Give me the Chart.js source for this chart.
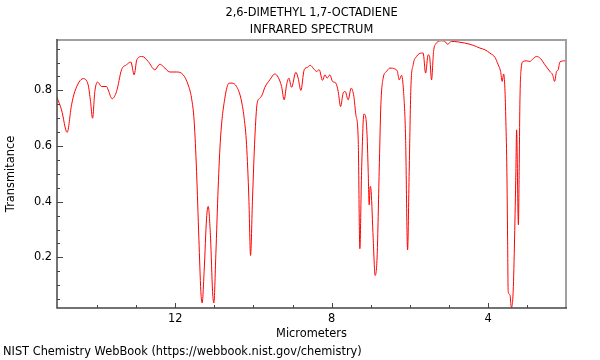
<!DOCTYPE html>
<html>
<head>
<meta charset="utf-8">
<script src="https://cdn.jsdelivr.net/npm/chart.js"></script>
<style>
  html, body { margin: 0; padding: 0; background: #fff; }
</style>
</head>
<body>
<canvas id="myChart" width="600" height="360"></canvas>
<script>
// spectrum: wavelength (micrometers) and transmitance
const microns = [
  15.02, 14.904, 14.761, 14.648, 14.564, 14.352, 14.224, 14.163, 14.111, 14.053,
  13.984, 13.881, 13.754, 13.712, 13.611, 13.498, 13.370, 13.242, 13.132, 13.048,
  12.979, 12.844, 12.690, 12.519, 12.391, 12.307, 12.135, 11.964, 11.795, 11.668,
  11.581, 11.514, 11.453, 11.394, 11.343, 11.310, 11.259, 11.197, 11.156, 11.095,
  11.044, 11.011, 10.960, 10.901, 10.840, 10.730, 10.620, 10.543, 10.431, 10.321,
  10.236, 10.175, 10.116, 10.073, 10.022, 9.963, 9.904, 9.835, 9.776, 9.707,
  9.579, 9.452, 9.367, 9.280, 9.214, 9.152, 9.094, 9.025, 8.915, 8.856,
  8.787, 8.702, 8.616, 8.549, 8.455, 8.385, 8.319, 8.232, 8.173, 8.115,
  8.046, 7.976, 7.892, 7.833, 7.772, 7.706, 7.654, 7.578, 7.501, 7.432,
  7.381, 7.322, 7.279, 7.235, 7.176, 7.125, 7.092, 7.066, 7.041, 7.015,
  6.990, 6.939, 6.888, 6.836, 6.785, 6.742, 6.683, 6.596, 6.512, 6.384,
  6.320, 6.274, 6.213, 6.162, 6.110, 6.059, 6.018, 5.975, 5.916, 5.829,
  5.701, 5.661, 5.599, 5.533, 5.497, 5.446, 5.395, 5.344, 5.190, 5.106,
  5.037, 4.935, 4.766, 4.595, 4.382, 4.211, 4.083, 3.956, 3.828, 3.743,
  3.682, 3.641, 3.605, 3.572, 3.547, 3.521, 3.503, 3.488, 3.444, 3.406,
  3.360, 3.324, 3.291, 3.273, 3.227, 3.207, 3.189, 3.163, 3.104, 3.017,
  2.933, 2.849, 2.762, 2.660, 2.550, 2.422, 2.353, 2.302, 2.251, 2.210,
  2.166, 2.038, 2.01
];
const transmit = [
  0.775, 0.73, 0.649, 0.748, 0.796, 0.842, 0.82, 0.76, 0.70, 0.796,
  0.83, 0.814, 0.814, 0.802, 0.77, 0.796, 0.874, 0.892, 0.902, 0.856,
  0.91, 0.922, 0.904, 0.874, 0.894, 0.886, 0.866, 0.866, 0.856, 0.82,
  0.772, 0.689, 0.509, 0.269, 0.078, 0.036, 0.15, 0.341, 0.383, 0.269,
  0.078, 0.036, 0.209, 0.449, 0.629, 0.772, 0.826, 0.826, 0.814, 0.772,
  0.70, 0.605, 0.413, 0.207, 0.413, 0.629, 0.754, 0.772, 0.784, 0.811,
  0.838, 0.859, 0.847, 0.814, 0.766, 0.82, 0.844, 0.811, 0.865, 0.844,
  0.80, 0.874, 0.883, 0.89, 0.877, 0.868, 0.874, 0.836, 0.856, 0.844,
  0.856, 0.832, 0.826, 0.796, 0.742, 0.79, 0.796, 0.766, 0.808, 0.778,
  0.712, 0.629, 0.231, 0.509, 0.715, 0.70, 0.629, 0.509, 0.389, 0.455,
  0.437, 0.269, 0.135, 0.209, 0.509, 0.748, 0.844, 0.868, 0.88, 0.877,
  0.868, 0.838, 0.854, 0.796, 0.629, 0.227, 0.509, 0.808, 0.892, 0.922,
  0.934, 0.934, 0.862, 0.928, 0.922, 0.838, 0.94, 0.966, 0.978, 0.976,
  0.966, 0.976, 0.974, 0.97, 0.962, 0.952, 0.946, 0.934, 0.919, 0.892,
  0.868, 0.832, 0.859, 0.808, 0.689, 0.509, 0.269, 0.078, 0.066, 0.02,
  0.078, 0.269, 0.509, 0.658, 0.317, 0.509, 0.748, 0.868, 0.904, 0.906,
  0.904, 0.914, 0.922, 0.914, 0.892, 0.868, 0.856, 0.832, 0.868, 0.874,
  0.902, 0.906, 0.904
];

const xTicks = [4, 8, 12];
const xMinor = [3, 5, 6, 7, 9, 10, 11, 13, 14];
const yTicks = [0.2, 0.4, 0.6, 0.8];
const yMinor = [0.05, 0.1, 0.15, 0.25, 0.3, 0.35, 0.45, 0.5, 0.55, 0.65, 0.7, 0.75, 0.85, 0.9, 0.95];

const titleLines = ['2,6-DIMETHYL 1,7-OCTADIENE', 'INFRARED SPECTRUM'];
const footer = 'NIST Chemistry WebBook (https://webbook.nist.gov/chemistry)';
const FONT = '"DejaVu Sans", sans-serif';
const FSIZE = 11.4;

// ticks pointing into the plot, frame, title and footer
const decor = {
  id: 'decor',
  afterDatasetsDraw(chart) {
    const c = chart.ctx, a = chart.chartArea;
    const xs = chart.scales.x, ys = chart.scales.y;
    c.save();
    c.strokeStyle = '#444';
    c.lineWidth = 1;
    c.beginPath();
    xTicks.forEach(v => { const p = Math.round(xs.getPixelForValue(v)) + 0.5; c.moveTo(p, a.bottom); c.lineTo(p, a.bottom - 5); });
    xMinor.forEach(v => { const p = Math.round(xs.getPixelForValue(v)) + 0.5; c.moveTo(p, a.bottom); c.lineTo(p, a.bottom - 3); });
    yTicks.forEach(v => { const p = Math.round(ys.getPixelForValue(v)) + 0.5; c.moveTo(a.left, p); c.lineTo(a.left + 6, p); });
    yMinor.forEach(v => { const p = Math.round(ys.getPixelForValue(v)) + 0.5; c.moveTo(a.left, p); c.lineTo(a.left + 3, p); });
    c.stroke();

    c.strokeStyle = '#a0a0a0';
    c.lineWidth = 2;
    c.beginPath();
    c.moveTo(a.left, a.top);
    c.lineTo(a.right, a.top);
    c.lineTo(a.right, a.bottom);
    c.stroke();

    c.strokeStyle = '#444';
    c.lineWidth = 1.5;
    c.beginPath();
    c.moveTo(a.left, a.top - 1);
    c.lineTo(a.left, a.bottom);
    c.lineTo(a.right + 1, a.bottom);
    c.stroke();

    c.fillStyle = '#000';
    c.font = FSIZE + 'px ' + FONT;
    c.textAlign = 'center';
    c.textBaseline = 'middle';
    const cx = (a.left + a.right) / 2;
    c.fillText(titleLines[0], cx, 13);
    c.fillText(titleLines[1], cx, 30);
    c.textAlign = 'left';
    c.fillText(footer, 3, 352);
    c.restore();
  }
};

const ctx = document.getElementById('myChart');
const chart = new Chart(ctx, {
  type: 'line',
  data: {
    datasets: [{
      label: 'IR',
      data: microns.map((m, i) => ({ x: m, y: transmit[i] })),
      borderColor: 'rgb(255,0,0)',
      borderWidth: 1,
      pointRadius: 0,
      cubicInterpolationMode: 'monotone',
      fill: false
    }]
  },
  options: {
    responsive: false,
    animation: false,
    devicePixelRatio: 1,
    layout: { padding: { left: 0, right: 34, top: 40, bottom: 19 } },
    plugins: {
      legend: { display: false },
      tooltip: { enabled: false },
      title: { display: false }
    },
    scales: {
      x: {
        type: 'linear',
        reverse: true,
        min: 2.01,
        max: 15.02,
        afterBuildTicks: s => { s.ticks = xTicks.map(v => ({ value: v })); },
        afterFit: s => { s.height = 33; },
        grid: { display: false, drawTicks: false },
        border: { display: false },
        ticks: { color: '#000', padding: 4, font: { family: FONT, size: FSIZE } },
        title: { display: true, text: 'Micrometers', color: '#000', padding: 0, font: { family: FONT, size: FSIZE } }
      },
      y: {
        min: 0.018,
        max: 0.981,
        afterBuildTicks: s => { s.ticks = yTicks.map(v => ({ value: v })); },
        afterFit: s => { s.width = 57; },
        grid: { display: false, drawTicks: false },
        border: { display: false },
        ticks: { color: '#000', padding: 5, font: { family: FONT, size: FSIZE }, callback: v => v.toFixed(1) },
        title: { display: true, text: 'Transmitance', color: '#000', padding: { top: 4, bottom: 0 }, font: { family: FONT, size: FSIZE } }
      }
    }
  },
  plugins: [decor]
});
</script>
</body>
</html>
